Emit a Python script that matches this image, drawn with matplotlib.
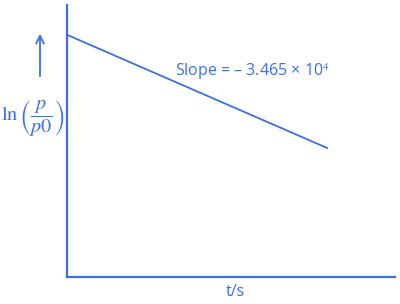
import matplotlib.pyplot as plt

# straight-line plot of ln(p/p0) against t (no numeric ticks in the source)
t_values = [0.0, 0.793]
ln_ratio = [0.89, 0.474]
slope_label = "Slope = \u2013 3.465 \u00d7 10$^4$"
x_label = "t/s"

BLUE = "#3b6fe6"
plt.rcParams["mathtext.fontset"] = "stix"

fig = plt.figure(figsize=(4.0, 3.04), dpi=100)
ax = fig.add_axes([0.1675, 0.089, 0.82, 0.895])

ax.plot(t_values, ln_ratio, color=BLUE, lw=1.3)
ax.set_xlim(0, 1)
ax.set_ylim(0, 1)

for side in ["top", "right"]:
    ax.spines[side].set_visible(False)
for side in ["left", "bottom"]:
    ax.spines[side].set_color(BLUE)
    ax.spines[side].set_linewidth(1.6)
ax.set_xticks([])
ax.set_yticks([])

ax.text(0.33, 0.755, slope_label, color=BLUE, fontsize=11.5,
        family="Open Sans", ha="left", va="center")

fig.text(235 / 400, 1 - 292 / 304, x_label, color=BLUE, fontsize=11.5,
         family="Open Sans", ha="center", va="center")

fig.text(33 / 400, 1 - 119 / 304, r"$\ln\left(\dfrac{p}{p0}\right)$",
         color=BLUE, fontsize=14.5, ha="center", va="center")

ax.annotate("", xy=(40 / 400, 1 - 31 / 304), xytext=(40 / 400, 1 - 79 / 304),
            xycoords="figure fraction", textcoords="figure fraction",
            annotation_clip=False,
            arrowprops=dict(arrowstyle="->", color=BLUE, lw=1.3,
                            mutation_scale=14))

fig.savefig("out.png", dpi=100)
